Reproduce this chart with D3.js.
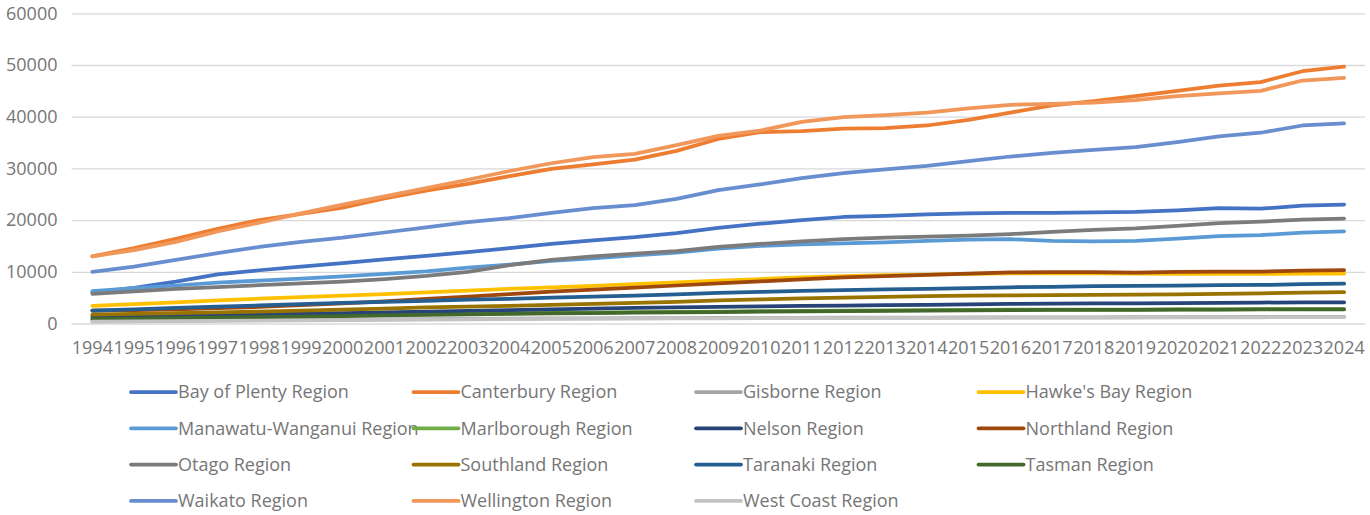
<!DOCTYPE html>
<html><head><meta charset="utf-8">
<script src="https://cdn.jsdelivr.net/npm/d3@7"></script>
<style>
body{margin:0;background:#fff;}
text{font-family:"Open Sans",sans-serif;fill:#767676;}
</style></head>
<body><svg id="c" width="1370" height="515"></svg>
<script>
const years = d3.range(1994, 2025).map(String);
const yTicks = [0,10000,20000,30000,40000,50000,60000];
const regions = ["Bay of Plenty Region","Canterbury Region","Gisborne Region","Hawke's Bay Region","Manawatu-Wanganui Region","Marlborough Region","Nelson Region","Northland Region","Otago Region","Southland Region","Taranaki Region","Tasman Region","Waikato Region","Wellington Region","West Coast Region"];
const colors = ["#4472C4","#ED7D31","#A5A5A5","#FFC000","#5B9BD5","#70AD47","#264478","#9E480E","#7B7B7B","#997300","#255E91","#43682B","#698ED0","#F1975A","#C4C4C4"];

const bayOfPlenty = [6000,6900,8100,9500,10300,11000,11700,12400,13100,13800,14600,15400,16100,16700,17500,18500,19300,20000,20600,20800,21100,21300,21400,21400,21500,21600,21900,22300,22200,22800,23000];
const canterbury = [13000,14600,16400,18300,20000,21200,22400,24200,25700,27000,28500,29900,30800,31700,33400,35700,37000,37200,37700,37800,38300,39400,40800,42200,43000,44000,45000,46000,46700,48800,49700];
const gisborne = [450,500,550,600,650,700,750,800,850,900,950,1000,1000,1050,1050,1100,1100,1100,1150,1150,1150,1200,1200,1200,1200,1250,1250,1250,1300,1300,1300];
const hawkesBay = [3400,3750,4100,4450,4800,5100,5400,5700,6000,6350,6700,7000,7300,7600,7950,8300,8600,8900,9150,9350,9450,9600,9700,9700,9700,9650,9600,9600,9600,9650,9650];
const manawatu = [6250,6850,7350,7900,8300,8700,9100,9600,10100,10800,11400,12100,12600,13200,13700,14500,15000,15300,15500,15700,16000,16200,16300,16000,15900,16000,16400,16900,17100,17600,17800];
const marlborough = [1000,1100,1200,1300,1400,1500,1600,1700,1800,1900,1950,2050,2100,2200,2250,2300,2400,2450,2500,2550,2600,2650,2700,2700,2700,2700,2750,2750,2800,2800,2800];
const nelson = [1400,1500,1600,1700,1800,1900,2000,2150,2300,2450,2600,2750,2900,3000,3100,3200,3300,3400,3450,3550,3600,3700,3800,3850,3900,3900,3950,4000,4050,4100,4100];
const northland = [2500,2600,2750,2950,3200,3550,3900,4300,4750,5200,5700,6150,6550,6950,7350,7750,8150,8550,8900,9150,9400,9650,9900,9950,9950,9850,10000,10050,10050,10250,10300];
const otago = [5750,6200,6700,7050,7400,7750,8100,8600,9200,10000,11300,12300,13000,13500,14000,14800,15400,15900,16300,16600,16800,17000,17300,17700,18100,18400,18900,19400,19700,20100,20300];
const southland = [1700,1850,2000,2150,2300,2500,2700,2900,3100,3250,3400,3600,3800,4000,4200,4450,4650,4850,5000,5150,5300,5400,5450,5500,5550,5600,5650,5750,5850,5950,6050];
const taranaki = [2500,2750,3000,3250,3500,3750,4000,4200,4400,4600,4770,5000,5200,5400,5650,5900,6100,6300,6450,6600,6700,6850,7000,7100,7250,7300,7350,7400,7450,7600,7700];
const tasman = [850,950,1050,1150,1250,1350,1450,1550,1650,1750,1850,1950,2000,2100,2150,2200,2300,2350,2400,2450,2500,2550,2600,2650,2650,2650,2700,2700,2750,2750,2750];
const waikato = [10000,11000,12300,13600,14800,15800,16600,17600,18600,19600,20400,21400,22300,22900,24100,25800,26900,28100,29100,29800,30500,31400,32300,33000,33600,34100,35100,36200,36900,38300,38700];
const wellington = [13000,14200,15800,17800,19500,21300,23000,24600,26200,27800,29500,31000,32200,32800,34500,36300,37300,39000,39900,40300,40800,41600,42300,42500,42700,43200,44000,44500,45000,47000,47500];
const westCoast = [350,400,450,500,550,600,650,700,750,800,850,900,950,950,1000,1000,1050,1050,1050,1100,1100,1100,1150,1150,1150,1150,1200,1200,1200,1250,1250];

const seriesValues = [bayOfPlenty,canterbury,gisborne,hawkesBay,manawatu,marlborough,nelson,northland,otago,southland,taranaki,tasman,waikato,wellington,westCoast];

const svg = d3.select("#c");
const plotLeft = 71.5, plotRight = 1365, plotTop = 13.3, plotBottom = 323.5;
const x = d3.scaleBand().domain(years).range([plotLeft, plotRight]);
const y = d3.scaleLinear().domain([0, 60000]).range([plotBottom, plotTop]);
const cx = d => x(d) + x.bandwidth()/2;

// gridlines + y labels
const ya = svg.append("g").attr("transform", `translate(${plotLeft},0)`)
  .call(d3.axisLeft(y).tickValues(yTicks).tickSize(-(plotRight-plotLeft)).tickPadding(14).tickFormat(d3.format("d")));
ya.select(".domain").remove();
ya.selectAll(".tick line").attr("stroke", "#D9D9D9").attr("stroke-width", 1.3);
ya.selectAll(".tick text").style("font-size", "18px").attr("fill", "#767676").attr("font-family", null);

// x axis labels
const xa = svg.append("g").attr("transform", `translate(0,${plotBottom})`)
  .call(d3.axisBottom(x).tickSize(0).tickPadding(18));
xa.select(".domain").remove();
xa.selectAll(".tick text").style("font-size", "18px").attr("fill", "#767676").attr("font-family", null);

// lines
const line = d3.line().x((d,i) => cx(years[i])).y(d => y(d));
svg.append("g").selectAll("path").data(seriesValues).join("path")
  .attr("d", d => line(d))
  .attr("fill", "none")
  .attr("stroke", (d,i) => colors[i])
  .attr("stroke-width", 3.75)
  .attr("stroke-linejoin", "round")
  .attr("stroke-linecap", "round");

// legend
const lg = svg.append("g");
const items = lg.selectAll("g").data(regions).join("g")
  .attr("transform", (d,i) => `translate(${130 + (i%4)*282.5},${392 + Math.floor(i/4)*36.3})`);
items.append("line").attr("x1", 1).attr("x2", 46).attr("y1", 0).attr("y2", 0)
  .attr("stroke", (d,i) => colors[i]).attr("stroke-width", 3.75).attr("stroke-linecap", "round");
items.append("text").attr("x", 48).attr("y", 0).attr("dy", "0.35em")
  .style("font-size", "18px").text(d => d);
</script></body></html>
